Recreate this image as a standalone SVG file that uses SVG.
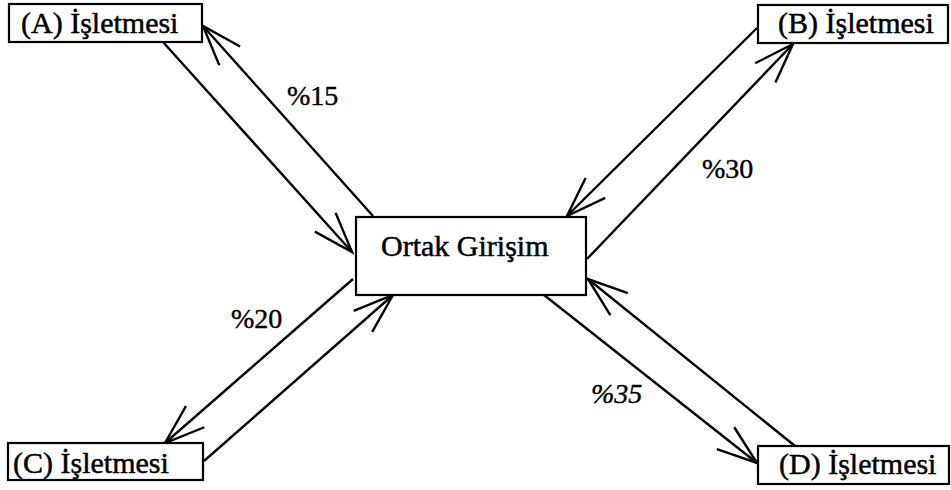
<svg xmlns="http://www.w3.org/2000/svg" width="951" height="490" viewBox="0 0 951 490">
  <style>
    .box { fill: #fff; stroke: #000; stroke-width: 2.2; }
    .lbl { font-family: "Liberation Serif", "Times New Roman", serif; font-size: 30px; fill: #000; stroke: #000; stroke-width: 0.5; }
    .pct { font-family: "Liberation Serif", "Times New Roman", serif; font-size: 28px; fill: #000; stroke: #000; stroke-width: 0.4; }
    .link { fill: none; stroke: #000; stroke-width: 2.4; marker-end: url(#arr); }
  </style>
  <defs>
    <marker id="arr" markerUnits="userSpaceOnUse" orient="auto" refX="0" refY="0" markerWidth="50" markerHeight="40" style="overflow:visible">
      <path d="M-40,-14 L0,0 L-40,14" fill="none" stroke="#000" stroke-width="2.4"/>
    </marker>
  </defs>
  <rect width="951" height="490" fill="#fff"/>

  <g id="connectors">
    <path class="link" d="M163,42 L352,252"/>
    <path class="link" d="M373,216 L203,26"/>
    <path class="link" d="M757,28 L567,216"/>
    <path class="link" d="M587,259 L793,44"/>
    <path class="link" d="M353,279 L165,443"/>
    <path class="link" d="M204,461 L393,295"/>
    <path class="link" d="M544,295 L757,463"/>
    <path class="link" d="M795,446 L588,279"/>
  </g>

  <g id="labels">
    <text class="pct" x="287" y="105">%15</text>
    <text class="pct" x="702" y="178">%30</text>
    <text class="pct" x="231" y="328">%20</text>
    <text class="pct" x="591" y="403" font-style="italic">%35</text>
  </g>

  <g id="node-a">
    <rect class="box" x="9" y="4" width="193" height="38"/>
    <text class="lbl" x="21" y="33">(A) İşletmesi</text>
  </g>
  <g id="node-b">
    <rect class="box" x="758" y="5" width="190" height="38"/>
    <text class="lbl" x="778" y="33">(B) İşletmesi</text>
  </g>
  <g id="node-c">
    <rect class="box" x="8" y="443" width="195" height="37"/>
    <text class="lbl" x="13" y="473">(C) İşletmesi</text>
  </g>
  <g id="node-d">
    <rect class="box" x="758" y="446" width="191" height="38"/>
    <text class="lbl" x="779" y="474">(D) İşletmesi</text>
  </g>
  <g id="node-center">
    <rect class="box" x="356" y="217" width="230" height="78"/>
    <text class="lbl" x="381" y="256">Ortak Girişim</text>
  </g>
</svg>
